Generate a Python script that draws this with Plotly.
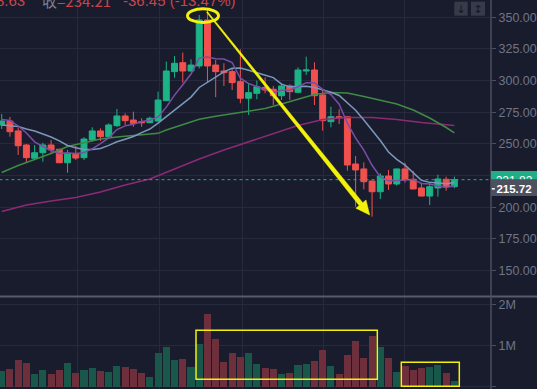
import math
import plotly.graph_objects as go

# ---------------- data ----------------
idx = list(range(56))
open_ = [265.0, 268.1, 260.3, 249.2, 238.7, 243.1, 249.2, 245.8, 235.2, 242.6,
         239.2, 253.1, 260.3, 255.8, 264.4, 272.1, 268.9, 267.6, 266.8, 268.1,
         284.2, 307.1, 314.2, 307.6, 311.6, 347.9, 312.3, 307.6, 307.1, 299.2,
         286.1, 290.0, 294.7, 293.2, 288.1, 295.8, 290.8, 307.6, 308.4, 288.7,
         267.6, 271.5, 271.5, 234.2, 230.3, 220.8, 212.3, 224.7, 218.4, 230.3,
         222.1, 215.3, 208.9, 215.3, 222.1, 216.3]
high = [273.7, 271.3, 262.6, 250.0, 249.2, 251.0, 253.1, 246.3, 245.3, 248.4,
        255.3, 263.2, 262.4, 266.3, 277.6, 274.2, 275.5, 270.3, 271.5, 291.3,
        315.0, 319.5, 322.1, 316.8, 351.8, 355.7, 316.3, 313.7, 309.7, 324.7,
        297.9, 300.0, 302.6, 295.8, 297.9, 297.1, 310.5, 318.9, 314.5, 292.6,
        279.4, 277.4, 272.1, 240.5, 235.5, 221.0, 226.9, 229.5, 230.5, 235.2,
        228.7, 219.4, 219.4, 225.8, 224.2, 224.2]
low = [261.8, 255.8, 241.3, 235.2, 238.2, 236.0, 242.6, 234.8, 227.3, 237.4,
       237.4, 251.8, 252.4, 254.5, 263.6, 265.0, 263.6, 263.6, 266.6, 267.8,
       283.9, 302.3, 298.4, 307.1, 309.7, 298.9, 287.0, 295.8, 292.6, 282.1,
       272.9, 285.3, 290.0, 280.8, 284.7, 284.7, 290.0, 304.5, 280.8, 260.5,
       263.2, 265.8, 228.9, 200.5, 214.2, 192.6, 206.6, 213.7, 217.1, 219.4,
       214.2, 208.6, 201.8, 208.4, 213.1, 215.0]
close = [268.1, 259.7, 248.6, 239.2, 243.1, 249.2, 245.3, 235.2, 242.6, 238.9,
         253.9, 260.3, 255.8, 265.0, 272.1, 268.4, 266.3, 266.8, 270.3, 284.7,
         307.6, 313.7, 307.6, 312.3, 347.9, 311.6, 307.1, 306.3, 298.4, 286.1,
         290.5, 295.2, 292.6, 288.1, 295.8, 291.3, 308.4, 308.4, 288.1, 268.4,
         271.5, 270.7, 233.4, 229.5, 220.2, 212.3, 224.7, 218.4, 230.3, 222.1,
         214.5, 208.9, 216.3, 222.4, 216.3, 221.82]
volume_m = [0.38, 0.43, 0.65, 0.58, 0.31, 0.41, 0.31, 0.41, 0.58, 0.33,
            0.41, 0.46, 0.38, 0.36, 0.50, 0.48, 0.43, 0.33, 0.24, 0.82,
            0.97, 0.65, 0.68, 0.48, 1.04, 1.77, 1.16, 0.60, 0.82, 0.72,
            0.82, 0.55, 0.46, 0.43, 0.31, 0.33, 0.53, 0.55, 0.63, 0.90,
            0.50, 0.31, 0.77, 1.11, 0.70, 1.24, 0.97, 0.70, 0.36, 0.50,
            0.41, 0.46, 0.48, 0.53, 0.33, 0.14]
ma5 = [269.3, 268.5, 264.2, 258.7, 251.7, 248.0, 245.1, 242.4, 243.1, 242.2,
       243.2, 246.2, 250.3, 254.8, 261.4, 264.3, 265.5, 267.7, 268.8, 271.3,
       279.1, 288.6, 296.8, 305.2, 317.8, 318.6, 317.3, 317.0, 314.3, 301.9,
       297.7, 295.3, 292.6, 290.5, 292.4, 292.6, 295.2, 298.4, 298.4, 292.9,
       289.0, 281.4, 266.4, 254.7, 245.1, 233.2, 224.0, 221.0, 221.2, 221.6,
       222.0, 218.8, 218.4, 216.8, 215.7, 217.1]
ma10 = [265.0, 264.6, 263.8, 261.8, 260.3, 257.9, 255.5, 252.4, 248.8, 247.0,
        245.6, 245.6, 246.4, 248.9, 251.8, 253.8, 255.9, 259.0, 261.8, 266.4,
        271.7, 277.1, 282.3, 287.0, 294.6, 298.9, 303.0, 306.9, 309.7, 309.9,
        308.2, 306.3, 304.8, 302.4, 297.2, 295.1, 295.3, 295.5, 294.5, 292.7,
        290.8, 288.3, 282.4, 276.6, 269.0, 261.1, 252.7, 243.7, 237.9, 233.3,
        227.6, 221.4, 219.7, 219.0, 218.6, 219.6]
ma30_idx = [0, 2, 4, 6, 8, 10, 12, 14, 16, 18, 19, 20, 22, 24, 26, 28, 30, 32,
            34, 36, 38, 40, 42, 44, 46, 48, 50, 52, 54, 55]
ma30 = [227.5, 233.0, 237.8, 242.5, 248.0, 251.2, 253.9, 255.5, 256.7, 257.5,
        258.4, 261.0, 265.0, 269.5, 271.9, 274.1, 276.0, 278.0, 281.6, 285.5,
        289.1, 290.6, 290.3, 287.5, 284.3, 281.6, 276.8, 270.5, 263.0, 258.7]
ma60_idx = [0, 3, 6, 9, 12, 15, 18, 21, 24, 27, 30, 33, 36, 39, 42, 45, 48, 51, 55]
ma60 = [196.7, 201.8, 205.0, 207.8, 212.1, 217.6, 222.4, 230.6, 238.2, 245.3,
        251.9, 258.6, 264.6, 269.3, 270.9, 270.9, 269.3, 267.0, 264.6]

price_ticks = [150, 175, 200, 225, 250, 275, 300, 325, 350]
price_ticktext = ["150.00", "175.00", "200.00", "", "250.00", "275.00", "300.00", "325.00", "350.00"]
vol_ticks = [0, 1, 2]
vol_ticktext = ["0", "1M", "2M"]
date_grid = [9.15, 19.2, 29.2, 39.05, 49.0]
last_price = 221.82
cross_price = 215.72

# ---------------- style ----------------
BG = "#191c2d"
GRID = "#262a3c"
AXIS = "#4a4e61"
TXT = "#6f7487"
UP = "#1cb387"
DOWN = "#f0514f"
UP_VOL = "#18574a"
DOWN_VOL = "#6e2f3c"
YEL = "#f2f20a"
HDR_RED = "#c8454a"
FONT = "Liberation Sans, Arial, sans-serif"

X_RANGE = [-0.207, 59.45]
Y_RANGE = [130.0, 363.65]
W, H = 491.0, 389.0
PRICE_H = 296.0

fig = go.Figure()

fig.add_trace(go.Candlestick(
    x=idx, open=open_, high=high, low=low, close=close,
    increasing=dict(line=dict(color=UP, width=1), fillcolor=UP),
    decreasing=dict(line=dict(color=DOWN, width=1), fillcolor=DOWN),
    whiskerwidth=0, xaxis="x", yaxis="y", showlegend=False, hoverinfo="skip"))

for xs, ys, col in [(ma60_idx, ma60, "#8c2a76"), (ma30_idx, ma30, "#3f8a45"),
                    (idx, ma10, "#7b98bb"), (idx, ma5, "#7a4ea6")]:
    fig.add_trace(go.Scatter(x=xs, y=ys, mode="lines", line=dict(color=col, width=1.5),
                             xaxis="x", yaxis="y", showlegend=False, hoverinfo="skip"))

vol_colors = [UP_VOL if c >= o else DOWN_VOL for o, c in zip(open_, close)]
fig.add_trace(go.Bar(x=idx, y=volume_m, marker=dict(color=vol_colors, line=dict(width=0)),
                     width=0.86, xaxis="x", yaxis="y2", showlegend=False, hoverinfo="skip"))

# last price dotted line
fig.add_trace(go.Scatter(x=[-1, 61], y=[last_price, last_price], mode="lines",
                         line=dict(color="#22a892", width=1, dash="dot"),
                         xaxis="x", yaxis="y", showlegend=False, hoverinfo="skip"))


def px(x, y):
    """pixel position in the plot area -> paper coordinates"""
    return x / W, 1 - y / H


def pdata(x, y):
    """pixel position in the price pane -> data coordinates"""
    xv = X_RANGE[0] + x / W * (X_RANGE[1] - X_RANGE[0])
    yv = Y_RANGE[1] - y / PRICE_H * (Y_RANGE[1] - Y_RANGE[0])
    return xv, yv


shapes = []
# pane separator & axis line
shapes.append(dict(type="line", xref="paper", yref="paper", x0=0, x1=537 / W,
                   y0=1 - 296.5 / H, y1=1 - 296.5 / H, line=dict(color="#575b6e", width=2), layer="above"))
shapes.append(dict(type="line", xref="paper", yref="paper", x0=1, x1=1, y0=0, y1=1,
                   line=dict(color=AXIS, width=1.5), layer="above"))

# yellow ellipse
ex0, ey0 = px(187.5, 8.8)
ex1, ey1 = px(218.5, 22.5)
shapes.append(dict(type="circle", xref="paper", yref="paper", x0=ex0, y0=ey0, x1=ex1, y1=ey1,
                   line=dict(color=YEL, width=3), layer="above"))

# tapered yellow arrow
S = (207.0, 12.0)
T = (369.7, 215.0)
dx, dy = T[0] - S[0], T[1] - S[1]
L = math.hypot(dx, dy)
ux, uy = dx / L, dy / L
nx, ny = -uy, ux
head_len, head_half, w0, w1 = 14.0, 6.5, 0.6, 2.3
Hb = (T[0] - ux * head_len, T[1] - uy * head_len)
pts = [(S[0] + nx * w0, S[1] + ny * w0), (Hb[0] + nx * w1, Hb[1] + ny * w1),
       (Hb[0] + nx * head_half, Hb[1] + ny * head_half), T,
       (Hb[0] - nx * head_half, Hb[1] - ny * head_half), (Hb[0] - nx * w1, Hb[1] - ny * w1),
       (S[0] - nx * w0, S[1] - ny * w0)]
path = "M " + " L ".join("%.5f %.5f" % px(x, y) for x, y in pts) + " Z"
shapes.append(dict(type="path", xref="paper", yref="paper", path=path,
                   fillcolor=YEL, line=dict(color=YEL, width=0.5), layer="above"))

# yellow volume boxes
for (a, b, c, d) in [(196, 330.3, 377.3, 379.3), (401.3, 362.3, 459.3, 386.3)]:
    x0, y0 = px(a, d)
    x1, y1 = px(c, b)
    shapes.append(dict(type="rect", xref="paper", yref="paper", x0=x0, y0=y0, x1=x1, y1=y1,
                       line=dict(color=YEL, width=1.5), layer="above"))

# right price labels
gx0, gy0 = px(491, 189)
gx1, gy1 = px(537, 171)
shapes.append(dict(type="rect", xref="paper", yref="paper", x0=gx0, y0=gy0, x1=gx1, y1=gy1,
                   fillcolor="#1fae86", line=dict(width=0), layer="above",
                   label=dict(text="%.2f" % last_price, font=dict(color="white", size=12, family=FONT))))
qx0, qy0 = px(491, 196)
qx1, qy1 = px(537, 179.3)
shapes.append(dict(type="rect", xref="paper", yref="paper", x0=qx0, y0=qy0, x1=qx1, y1=qy1,
                   fillcolor="#4d505e", line=dict(width=0), layer="above",
                   label=dict(text="<b>%.2f</b>" % cross_price, font=dict(color="white", size=11.5, family=FONT))))
mx0, my = px(491.8, 188.8)
mx1, _ = px(494.8, 188.8)
shapes.append(dict(type="line", xref="paper", yref="paper", x0=mx0, x1=mx1, y0=my, y1=my,
                   line=dict(color="white", width=1.5), layer="above"))

# top-right buttons
for (a, c, sym) in [(454.3, 467.7, "↓"), (471.0, 485.0, "↕")]:
    x0, y0 = px(a, 15.7)
    x1, y1 = px(c, 1.7)
    shapes.append(dict(type="rect", xref="paper", yref="paper", x0=x0, y0=y0, x1=x1, y1=y1,
                       fillcolor="#363a4b", line=dict(width=0), layer="above",
                       label=dict(text=sym, font=dict(color="#15181f", size=11, family="DejaVu Sans"))))

# header legend text (data-referenced so it does not push the margins)
annotations = []
hx1, hy = pdata(27, 0.5)
annotations.append(dict(xref="x", yref="y", x=hx1, y=hy, xanchor="right", yanchor="middle",
                        text="8.63", showarrow=False, font=dict(color=HDR_RED, size=15, family=FONT)))
hx2, _ = pdata(40, 0.5)
annotations.append(dict(xref="x", yref="y", x=hx2, y=hy, xanchor="left", yanchor="middle",
                        text="收<span style='color:%s'>=234.21</span>" % HDR_RED, showarrow=False,
                        font=dict(color="#7d8190", size=15, family="Noto Sans CJK SC, " + FONT)))
hx3, _ = pdata(121, 0.5)
annotations.append(dict(xref="x", yref="y", x=hx3, y=hy, xanchor="left", yanchor="middle",
                        text="-36.45 (-13.47%)", showarrow=False, font=dict(color=HDR_RED, size=15, family=FONT)))

fig.update_layout(
    width=537, height=389,
    margin=dict(l=0, r=46, t=0, b=0, autoexpand=False),
    paper_bgcolor=BG, plot_bgcolor=BG,
    font=dict(family=FONT, color=TXT, size=12.5),
    bargap=0, boxgap=0.15, boxgroupgap=0.15,
    xaxis=dict(range=X_RANGE, showticklabels=False, ticks="", tickvals=date_grid,
               showgrid=True, gridcolor=GRID, gridwidth=1, zeroline=False, showline=False,
               rangeslider=dict(visible=False), anchor="y2", fixedrange=True),
    yaxis=dict(domain=[1 - PRICE_H / H, 1], range=Y_RANGE, side="right",
               tickvals=price_ticks, ticktext=price_ticktext, ticks="outside", ticklen=4,
               tickcolor=AXIS, showgrid=True, gridcolor=GRID, zeroline=False, showline=False,
               tickfont=dict(color=TXT, size=12.5), anchor="x"),
    yaxis2=dict(domain=[0, 1 - 297 / H], range=[-0.056, 2.188], side="right",
                tickvals=vol_ticks, ticktext=vol_ticktext, ticks="outside", ticklen=4,
                tickcolor=AXIS, showgrid=True, gridcolor=GRID, zeroline=False, showline=False,
                tickfont=dict(color=TXT, size=12.5), anchor="x"),
    shapes=shapes, annotations=annotations,
    hovermode=False,
)

fig.write_html("out.html", config={"displayModeBar": False},
               post_script="document.body.style.margin='0';document.body.style.background='%s';" % BG)
